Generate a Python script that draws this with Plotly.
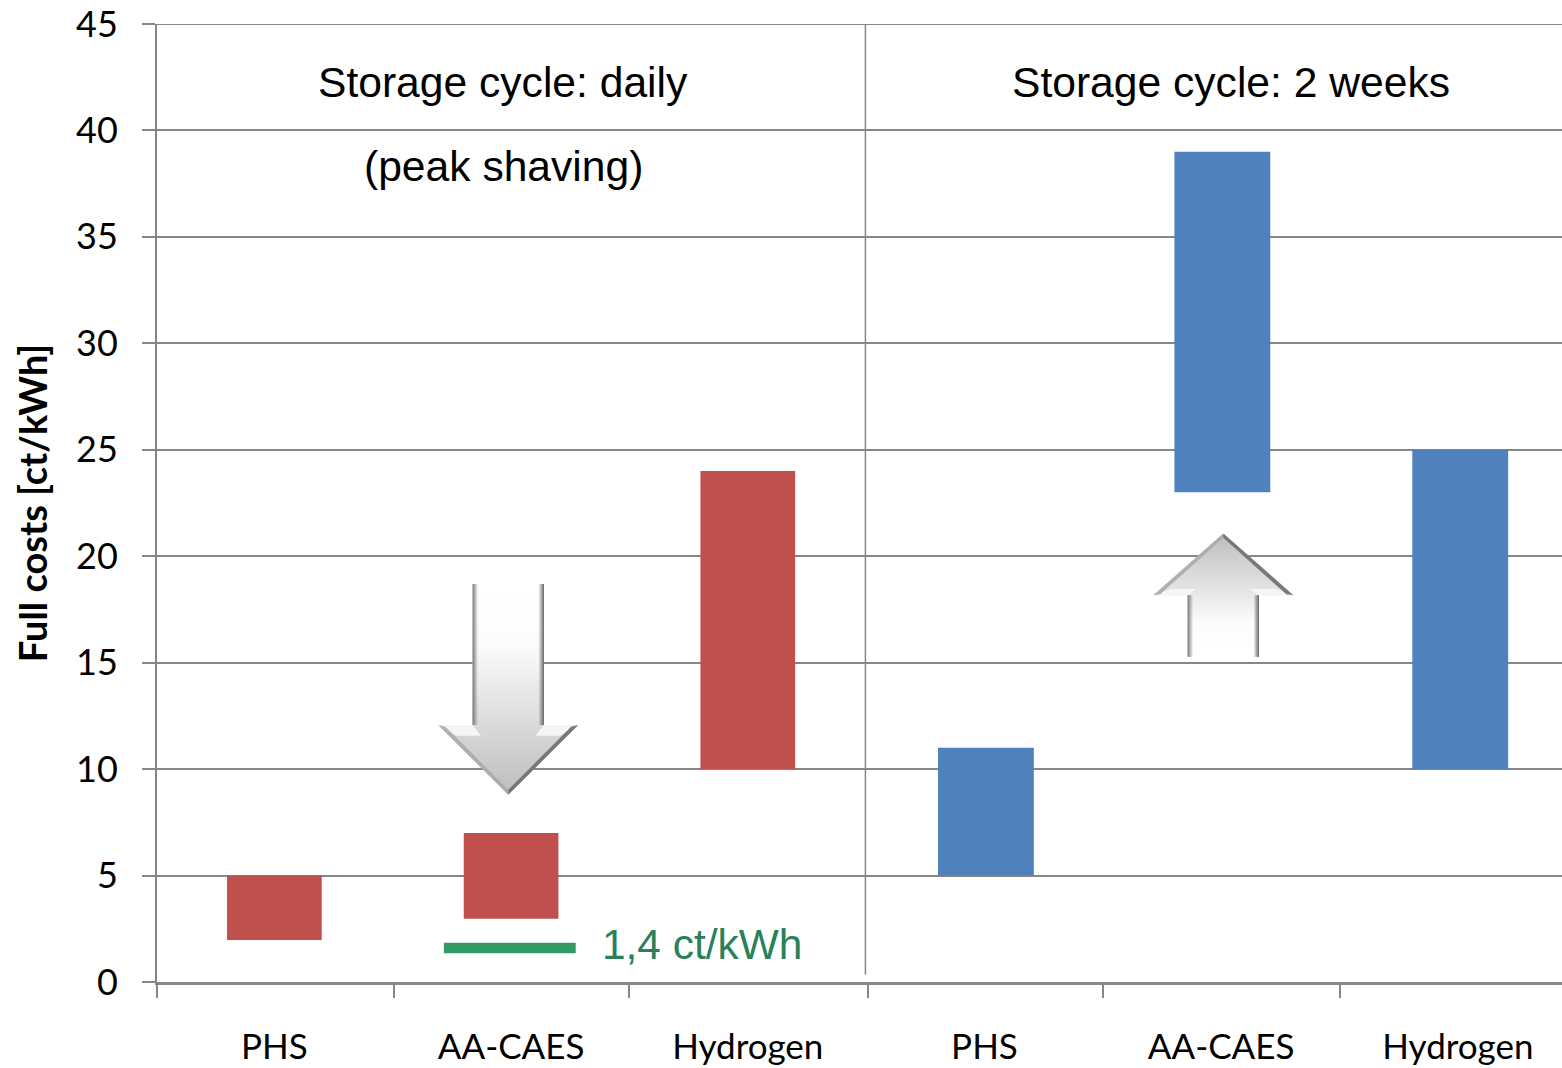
import base64
import plotly.graph_objects as go

categories = ["PHS", "AA-CAES", "Hydrogen", "PHS", "AA-CAES", "Hydrogen"]
daily_x = [0, 1, 2]
daily_low = [1.97, 2.97, 10]
daily_high = [5, 7, 24]
weekly_x = [3.006, 4.005, 5.01]
weekly_low = [5, 23, 10]
weekly_high = [11, 39, 25]
y_ticks = [0, 5, 10, 15, 20, 25, 30, 35, 40, 45]
x_centres = [0, 1, 2, 3, 4, 5]
x_bounds = [-0.496, 0.505, 1.5, 2.51, 3.5, 4.5]
target_x = [0.716, 1.273]
target_y = [1.6, 1.6]

RED, BLUE, GREEN, GRID = "#c0504d", "#4f81bd", "#339966", "#868686"
SANS, CAL = "Liberation Sans", "Lato"


def arrow_svg(up):
    # drawn pointing down in a 100x100 box; the up arrow is the mirrored shape
    hy = 50 if up else 67
    tf = ' transform="translate(0,100) scale(1,-1)"' if up else ""
    sl, sr = 24.5, 75.5
    svg = f'''<svg xmlns="http://www.w3.org/2000/svg" width="140" height="200" viewBox="0 0 100 100" preserveAspectRatio="none">
<defs>
<linearGradient id="g" x1="0" y1="0" x2="0" y2="1"><stop offset="0" stop-color="#ffffff"/><stop offset="0.28" stop-color="#fcfcfc"/><stop offset="1" stop-color="#bdbdbd"/></linearGradient>
<linearGradient id="l" x1="0" y1="0" x2="1" y2="0"><stop offset="0" stop-color="#777777"/><stop offset="1" stop-color="#777777" stop-opacity="0"/></linearGradient>
<linearGradient id="r" x1="1" y1="0" x2="0" y2="0"><stop offset="0" stop-color="#666666"/><stop offset="1" stop-color="#666666" stop-opacity="0"/></linearGradient>
</defs>
<g{tf}>
<polygon points="{sl},0 {sr},0 {sr},{hy} 100,{hy} 50,100 0,{hy} {sl},{hy}" fill="url(#g)"/>
<rect x="{sl}" y="0" width="4" height="{hy}" fill="url(#l)"/>
<rect x="{sr - 4}" y="0" width="4" height="{hy}" fill="url(#r)"/>
<polygon points="0,{hy} {sl},{hy} {sl + 6},{hy + 5} 13,{hy + 5}" fill="#f6f6f6"/>
<polygon points="100,{hy} {sr},{hy} {sr - 6},{hy + 5} 87,{hy + 5}" fill="#f6f6f6"/>
<polygon points="0,{hy} 50,100 50,{100 - (100 - hy) * 0.07} 5,{hy + 0.7}" fill="#a8a8a8" opacity="0.85"/>
<polygon points="100,{hy} 50,100 50,{100 - (100 - hy) * 0.07} 95,{hy + 0.7}" fill="#6e6e6e" opacity="0.9"/>
</g></svg>'''
    return "data:image/svg+xml;base64," + base64.b64encode(svg.encode()).decode()


fig = go.Figure()
fig.add_bar(x=daily_x, y=[h - l for h, l in zip(daily_high, daily_low)], base=daily_low,
            width=0.4, marker=dict(color=RED, line_width=0), hoverinfo="skip")
fig.add_bar(x=weekly_x, y=[h - l for h, l in zip(weekly_high, weekly_low)], base=weekly_low,
            width=0.405, marker=dict(color=BLUE, line_width=0), hoverinfo="skip")
fig.add_scatter(x=target_x, y=target_y, mode="lines", line=dict(color=GREEN, width=10.5), hoverinfo="skip")

fig.add_shape(type="line", x0=2.497, x1=2.497, y0=0.35, y1=45, line=dict(color=GRID, width=1.5), layer="below")
fig.add_shape(type="line", xref="paper", x0=0, x1=1, y0=45, y1=45, line=dict(color=GRID, width=2), layer="below")

fig.add_layout_image(source=arrow_svg(False), xref="x", yref="y", x=0.692, y=18.7, sizex=0.592, sizey=9.9,
                     sizing="stretch", xanchor="left", yanchor="top", layer="above")
fig.add_layout_image(source=arrow_svg(True), xref="x", yref="y", x=3.713, y=21.07, sizex=0.592, sizey=5.8,
                     sizing="stretch", xanchor="left", yanchor="top", layer="above")

for txt, x, y, size, color, anchor in [
    ("Storage cycle: daily", 0.966, 42.27, 42.6, "#000000", "center"),
    ("(peak shaving)", 0.966, 38.32, 42.6, "#000000", "center"),
    ("Storage cycle: 2 weeks", 4.04, 42.27, 42.6, "#000000", "center"),
    ("1,4 ct/kWh", 1.375, 1.75, 42.4, "#2a8059", "left"),
]:
    fig.add_annotation(text=txt, x=x, y=y, xref="x", yref="y", showarrow=False, xanchor=anchor,
                       yanchor="middle", font=dict(family=SANS, size=size, color=color))

fig.update_layout(
    width=1562, height=1068, margin=dict(l=157, r=0, t=24, b=85.5),
    paper_bgcolor="white", plot_bgcolor="white", showlegend=False, barmode="overlay",
    xaxis=dict(range=[-0.496, 5.44], tickmode="array", tickvals=x_centres, ticktext=categories,
               ticks="", showgrid=False, zeroline=False, showline=True, linecolor=GRID, linewidth=3,
               tickfont=dict(family=CAL, size=35, color="#000000"), ticklabelstandoff=32,
               minor=dict(tickmode="array", tickvals=x_bounds, ticks="outside", ticklen=13,
                          tickwidth=2, tickcolor=GRID, showgrid=False)),
    yaxis=dict(range=[0, 45], tickmode="array", tickvals=y_ticks, ticks="outside", ticklen=13,
               tickwidth=2, tickcolor=GRID, gridcolor=GRID, gridwidth=2, zeroline=False,
               showline=True, linecolor=GRID, linewidth=2,
               tickfont=dict(family=CAL, size=36, color="#000000"), ticklabelstandoff=17,
               title=dict(text="<b>Full costs [ct/kWh]</b>", standoff=17,
                          font=dict(family=CAL, size=38, color="#000000"))),
)

fig.write_html("out.html", config=dict(displayModeBar=False),
               post_script="document.body.style.margin='0';document.body.style.overflow='hidden';")
